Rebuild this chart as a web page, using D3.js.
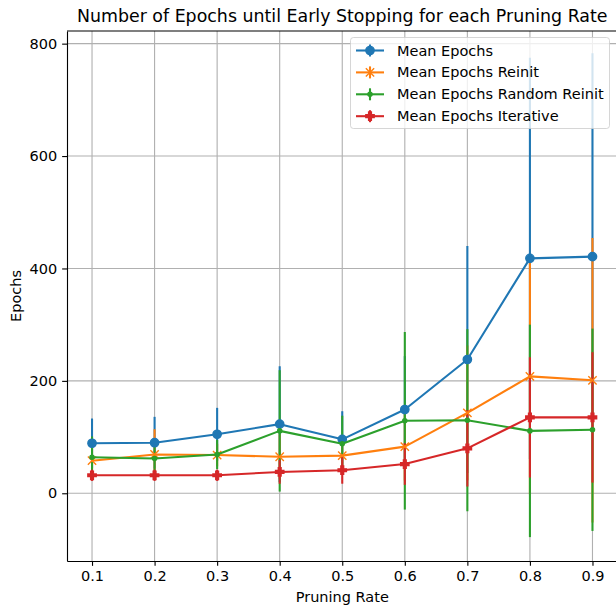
<!DOCTYPE html>
<html>
<head>
<meta charset="utf-8">
<script src="https://cdn.jsdelivr.net/npm/d3@7"></script>
<style>
body { margin: 0; background: white; }
svg { display: block; font-family: "DejaVu Sans", sans-serif; }
</style>
</head>
<body>
<div id="chart"></div>
<script>
// pruning rates on the x axis
const rates = [0.1, 0.2, 0.3, 0.4, 0.5, 0.6, 0.7, 0.8, 0.9];

// values (mean and symmetric error)
const meanEpochs      = [89, 90, 105, 123, 96, 149, 238, 418, 421];
const meanEpochsErr   = [44, 46, 47, 103, 50, 95, 202, 357, 362];
const reinit          = [58, 69, 68, 65, 67, 83, 143, 208, 201];
const reinitErr       = [35, 45, 20, 40, 30, 60, 120, 210, 253];
const randomReinit    = [64, 62, 69, 111, 88, 129, 130, 111, 113];
const randomReinitErr = [37, 28, 26, 108, 50, 158, 162, 189, 180];
const iterative       = [32, 32, 32, 38, 41, 52, 80, 135, 135];
const iterativeErr    = [10, 10, 10, 21, 24, 37, 68, 107, 116];

const yTicks = [0, 200, 400, 600, 800];
const seriesNames = ['Mean Epochs', 'Mean Epochs Reinit', 'Mean Epochs Random Reinit', 'Mean Epochs Iterative'];
const colors = ['#1f77b4', '#ff7f0e', '#2ca02c', '#d62728'];
const markers = ['o', 'x', '.', 'P'];

const series = [
	[meanEpochs, meanEpochsErr],
	[reinit, reinitErr],
	[randomReinit, randomReinitErr],
	[iterative, iterativeErr]
].map(([m, e], i) => ({
	name: seriesNames[i],
	color: colors[i],
	marker: markers[i],
	points: rates.map((r, j) => ({x: r, y: m[j], err: e[j]}))
}));

const W = 616, H = 606;
const PT = 100 / 72;
const axL = 67, axT = 31, axR = 617.5, axB = 561;
const FS = 14.5;

const svg = d3.select('#chart').append('svg')
	.attr('width', W)
	.attr('height', H);

const x = d3.scaleLinear().domain([0.06, 0.94]).range([axL, axR]);
const y = d3.scaleLinear().domain([-120.5, 822.5]).range([axB, axT]);

// grid
const grid = svg.append('g').attr('stroke', '#b0b0b0').attr('stroke-width', 0.8 * PT);
grid.selectAll('line.v').data(rates).enter().append('line')
	.attr('x1', d => x(d)).attr('x2', d => x(d))
	.attr('y1', axT).attr('y2', axB);
grid.selectAll('line.h').data(yTicks).enter().append('line')
	.attr('x1', axL).attr('x2', axR)
	.attr('y1', d => y(d)).attr('y2', d => y(d));

// error bars first (matplotlib draws data lines above all bars)
series.forEach(s => {
	svg.append('g').selectAll('line').data(s.points).enter().append('line')
		.attr('x1', d => x(d.x)).attr('x2', d => x(d.x))
		.attr('y1', d => y(d.y - d.err)).attr('y2', d => y(d.y + d.err))
		.attr('stroke', s.color)
		.attr('stroke-width', 1.5 * PT);
});

function drawMarker(g, type, color) {
	const ms = 6 * PT, h = ms / 2, ew = 1 * PT;
	if (type === 'o') {
		g.append('circle').attr('r', h).attr('fill', color).attr('stroke', color).attr('stroke-width', ew);
	} else if (type === '.') {
		g.append('circle').attr('r', h * 0.5).attr('fill', color).attr('stroke', color).attr('stroke-width', ew);
	} else if (type === 'x') {
		g.append('path').attr('d', `M${-h},${-h}L${h},${h}M${-h},${h}L${h},${-h}`)
			.attr('fill', 'none').attr('stroke', color).attr('stroke-width', ew);
	} else if (type === 'P') {
		const a = h / 3;
		g.append('path')
			.attr('d', `M${-a},${-h}H${a}V${-a}H${h}V${a}H${a}V${h}H${-a}V${a}H${-h}V${-a}H${-a}Z`)
			.attr('fill', color).attr('stroke', color).attr('stroke-width', ew).attr('stroke-linejoin', 'miter');
	}
}

const line = d3.line().x(d => x(d.x)).y(d => y(d.y));
series.forEach(s => {
	svg.append('path').datum(s.points)
		.attr('d', line)
		.attr('fill', 'none')
		.attr('stroke', s.color)
		.attr('stroke-width', 1.5 * PT)
		.attr('stroke-linejoin', 'round');
	svg.append('g').selectAll('g').data(s.points).enter().append('g')
		.attr('transform', d => `translate(${x(d.x)},${y(d.y)})`)
		.each(function() { drawMarker(d3.select(this), s.marker, s.color); });
});

// axes
const xAxis = svg.append('g')
	.attr('transform', `translate(0,${axB})`)
	.call(d3.axisBottom(x).tickValues(rates).tickFormat(d3.format('.1f')).tickSize(3.5 * PT).tickPadding(3.5 * PT).tickSizeOuter(0));
const yAxis = svg.append('g')
	.attr('transform', `translate(${axL},0)`)
	.call(d3.axisLeft(y).tickValues(yTicks).tickSize(3.5 * PT).tickPadding(3.5 * PT).tickSizeOuter(0));
[xAxis, yAxis].forEach(a => {
	a.selectAll('text').attr('font-size', FS).attr('font-family', '"DejaVu Sans", sans-serif').attr('fill', '#000');
	a.selectAll('line').attr('stroke', '#000').attr('stroke-width', 0.8 * PT);
	a.select('.domain').attr('stroke', '#000').attr('stroke-width', 0.8 * PT);
});
svg.append('line').attr('x1', axL).attr('x2', axR).attr('y1', axT).attr('y2', axT)
	.attr('stroke', '#000').attr('stroke-width', 0.8 * PT);

// labels
svg.append('text').attr('x', (axL + axR) / 2).attr('y', 22)
	.attr('text-anchor', 'middle').attr('font-size', 17.4)
	.text('Number of Epochs until Early Stopping for each Pruning Rate');
svg.append('text').attr('x', (axL + axR) / 2).attr('y', 602)
	.attr('text-anchor', 'middle').attr('font-size', FS)
	.text('Pruning Rate');
svg.append('text').attr('transform', `translate(21,${(axT + axB) / 2}) rotate(-90)`)
	.attr('text-anchor', 'middle').attr('font-size', FS)
	.text('Epochs');

// legend
const lg = svg.append('g');
lg.append('rect')
	.attr('x', 350.5).attr('y', 37.5).attr('width', 259).attr('height', 91).attr('rx', 3)
	.attr('fill', 'white').attr('fill-opacity', 0.8)
	.attr('stroke', '#cccccc').attr('stroke-opacity', 0.8).attr('stroke-width', 1);
series.forEach((s, i) => {
	const cy = 50.5 + i * 21.9;
	const row = lg.append('g');
	row.append('line').attr('x1', 356).attr('x2', 384).attr('y1', cy).attr('y2', cy)
		.attr('stroke', s.color).attr('stroke-width', 1.5 * PT);
	row.append('line').attr('x1', 370).attr('x2', 370).attr('y1', cy - 6).attr('y2', cy + 6)
		.attr('stroke', s.color).attr('stroke-width', 1.5 * PT);
	const m = row.append('g').attr('transform', `translate(370,${cy})`);
	drawMarker(m, s.marker, s.color);
	row.append('text').attr('x', 397).attr('y', cy + 5)
		.attr('font-size', FS).attr('fill', '#000')
		.text(s.name);
});
</script>
</body>
</html>
